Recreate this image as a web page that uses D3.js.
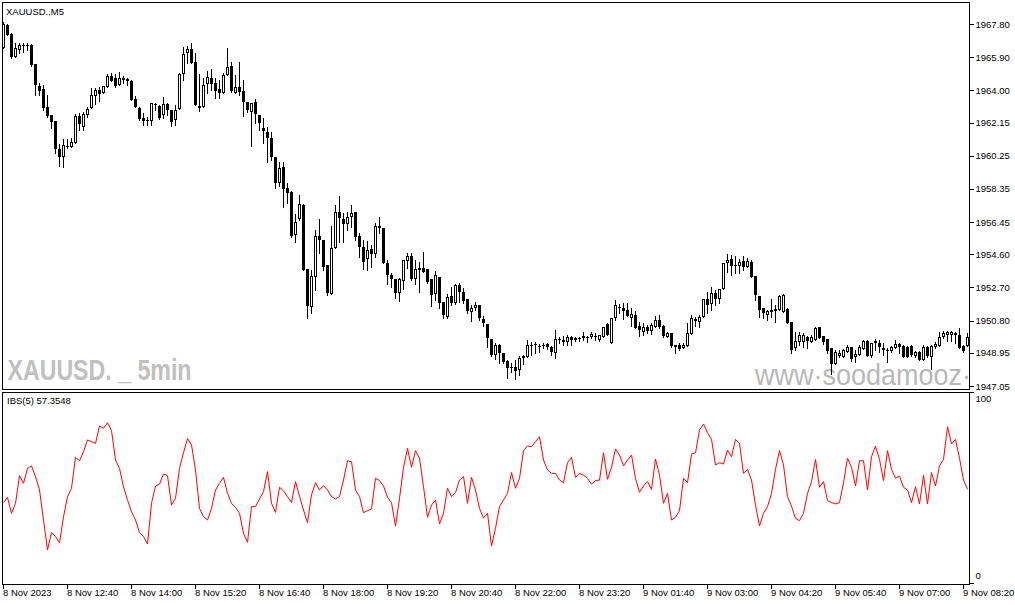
<!DOCTYPE html>
<html>
<head>
<meta charset="utf-8">
<script src="https://cdn.jsdelivr.net/npm/d3@7"></script>
<style>
  html, body { margin: 0; padding: 0; background: #fff; }
  svg { display: block; }
</style>
</head>
<body>
<svg id="chart"></svg>
<script>
const width = 1015;
const height = 605;
const mainBox = { left: 2.5, right: 969.5, top: 2.5, bottom: 389.5 };
const subBox = { left: 2.5, right: 969.5, top: 392.5, bottom: 584.5 };
const font = '"Liberation Sans", Arial, sans-serif';

const symbolTitle = 'XAUUSD.,M5';
const indicatorTitle = 'IBS(5) 57.3548';
const leftMark = 'XAUUSD. _ 5min';
const rightMark = 'www·soodamooz·com';

const priceTicks = [1967.80, 1965.90, 1964.00, 1962.15, 1960.25, 1958.35, 1956.45, 1954.60, 1952.70, 1950.80, 1948.95, 1947.05];
const ibsTicks = [100, 0];
const timeTicks = [
    [0, '8 Nov 2023'], [16, '8 Nov 12:40'], [32, '8 Nov 14:00'], [48, '8 Nov 15:20'],
    [64, '8 Nov 16:40'], [80, '8 Nov 18:00'], [96, '8 Nov 19:20'], [112, '8 Nov 20:40'],
    [128, '8 Nov 22:00'], [144, '8 Nov 23:20'], [160, '9 Nov 01:40'], [176, '9 Nov 03:00'],
    [192, '9 Nov 04:20'], [208, '9 Nov 05:40'], [224, '9 Nov 07:00'], [240, '9 Nov 08:20']
];

// M5 bars, [open, high, low, close]
const candles = [
    [1966.42,1967.91,1966.42,1967.80],[1967.74,1967.80,1967.17,1967.17],[1967.23,1967.28,1965.85,1965.91],[1965.91,1966.71,1965.91,1966.42],
    [1966.31,1966.71,1966.14,1966.60],[1966.54,1966.71,1966.19,1966.60],[1966.60,1966.71,1966.31,1966.54],[1966.60,1966.65,1965.39,1965.45],
    [1965.51,1965.51,1963.73,1964.30],[1964.24,1964.42,1963.73,1963.96],[1964.07,1964.30,1962.87,1962.98],[1963.04,1963.73,1962.47,1962.52],
    [1962.58,1962.58,1961.84,1962.18],[1962.24,1962.24,1960.40,1960.63],[1960.63,1960.92,1959.66,1960.18],[1960.18,1961.21,1959.60,1960.86],
    [1960.81,1961.21,1960.69,1960.79],[1960.75,1961.27,1960.75,1961.04],[1960.98,1962.64,1960.98,1962.52],[1962.52,1962.70,1961.72,1962.07],
    [1961.90,1962.75,1961.72,1962.64],[1962.58,1963.04,1962.47,1962.93],[1962.98,1964.13,1962.98,1963.73],[1963.67,1964.13,1963.21,1964.02],
    [1964.02,1964.19,1963.39,1963.79],[1963.84,1964.24,1963.84,1964.24],[1964.19,1964.93,1964.19,1964.81],[1964.81,1964.99,1964.53,1964.53],
    [1964.70,1964.93,1964.19,1964.24],[1964.30,1965.05,1964.30,1964.70],[1964.70,1964.81,1964.42,1964.59],[1964.53,1964.70,1964.30,1964.65],
    [1964.53,1964.59,1963.44,1963.44],[1963.50,1963.67,1963.04,1963.04],[1962.98,1963.04,1962.30,1962.35],[1962.41,1962.70,1962.01,1962.24],
    [1962.30,1962.47,1962.01,1962.28],[1962.24,1963.27,1962.01,1963.27],[1963.21,1963.27,1962.87,1963.19],[1963.10,1963.16,1962.35,1962.41],
    [1962.58,1963.62,1962.41,1963.21],[1963.21,1963.27,1962.58,1962.87],[1962.87,1962.87,1961.95,1962.18],[1962.30,1963.16,1962.01,1962.87],
    [1962.93,1964.99,1962.93,1964.93],[1964.93,1966.48,1964.59,1966.08],[1966.14,1966.54,1965.56,1966.37],[1966.37,1966.71,1965.56,1965.56],
    [1965.62,1966.14,1963.16,1963.16],[1963.10,1964.93,1962.81,1962.98],[1963.04,1964.70,1963.04,1964.30],[1964.36,1965.10,1963.84,1964.76],
    [1964.70,1965.22,1964.02,1964.36],[1964.42,1964.70,1963.56,1963.96],[1964.07,1964.59,1963.56,1963.84],[1963.84,1964.99,1963.84,1964.87],
    [1964.87,1966.42,1964.87,1965.33],[1965.39,1965.62,1963.90,1963.96],[1963.84,1964.87,1963.84,1964.19],[1964.19,1965.62,1963.73,1963.90],
    [1963.96,1964.59,1962.52,1963.33],[1963.33,1963.33,1962.75,1962.87],[1962.75,1963.27,1960.81,1963.27],[1963.33,1963.50,1962.13,1962.64],
    [1962.58,1962.58,1961.72,1962.13],[1961.84,1962.41,1960.98,1961.67],[1961.61,1961.90,1959.89,1961.27],[1961.27,1961.61,1960.00,1960.18],
    [1960.18,1960.18,1958.40,1958.69],[1958.69,1959.89,1958.51,1959.55],[1959.60,1959.89,1957.31,1958.34],[1958.40,1958.69,1957.54,1958.11],
    [1958.17,1958.23,1955.59,1955.65],[1955.70,1956.91,1955.30,1956.45],[1956.62,1957.99,1956.57,1957.48],[1957.42,1957.48,1953.70,1953.70],
    [1953.76,1953.76,1950.95,1951.63],[1951.58,1953.70,1951.23,1953.35],[1953.30,1955.99,1952.55,1955.65],[1955.65,1956.62,1954.67,1955.42],
    [1955.42,1955.42,1953.70,1953.87],[1953.99,1953.99,1952.27,1952.38],[1952.32,1956.22,1952.32,1954.96],[1954.96,1957.42,1954.96,1957.02],
    [1957.02,1957.94,1955.30,1956.68],[1956.62,1956.97,1955.30,1956.34],[1956.34,1957.02,1955.99,1956.74],[1956.74,1957.42,1956.16,1956.97],
    [1957.02,1957.02,1955.42,1955.59],[1955.65,1955.82,1954.44,1955.01],[1955.01,1955.42,1953.76,1954.16],[1954.33,1955.36,1953.70,1954.85],
    [1954.90,1955.13,1953.87,1954.62],[1954.62,1956.39,1954.44,1956.22],[1956.22,1956.74,1955.82,1956.11],[1956.11,1956.11,1954.10,1954.10],
    [1954.10,1954.27,1952.90,1953.41],[1953.41,1953.53,1952.72,1953.18],[1953.18,1953.18,1952.09,1952.38],[1952.38,1953.24,1951.92,1953.18],
    [1953.07,1954.27,1952.61,1954.27],[1954.21,1954.67,1953.81,1954.50],[1954.50,1954.67,1953.13,1953.18],[1953.18,1954.27,1952.90,1953.76],
    [1953.81,1954.16,1952.44,1953.70],[1953.81,1954.73,1953.58,1953.58],[1953.76,1953.76,1952.95,1953.01],[1953.18,1953.18,1951.63,1952.27],
    [1952.32,1953.64,1951.98,1953.41],[1953.30,1953.30,1951.52,1951.81],[1951.86,1951.86,1950.95,1951.12],[1951.00,1952.32,1950.95,1952.15],
    [1952.21,1952.72,1951.69,1951.81],[1951.81,1952.90,1951.75,1952.84],[1952.84,1952.95,1951.86,1952.44],[1952.44,1952.67,1951.81,1951.92],
    [1952.04,1952.04,1951.23,1951.35],[1951.29,1951.69,1950.78,1951.52],[1951.52,1951.86,1951.40,1951.69],[1951.69,1951.69,1950.83,1950.95],
    [1950.89,1951.06,1950.49,1950.66],[1950.60,1950.60,1949.29,1949.80],[1949.74,1949.74,1948.77,1948.83],[1948.83,1949.51,1948.60,1949.40],
    [1949.40,1949.46,1948.37,1948.94],[1948.94,1948.94,1948.37,1948.43],[1948.48,1948.54,1947.51,1948.08],[1948.14,1948.37,1947.85,1948.12],
    [1948.14,1948.54,1947.45,1947.91],[1947.97,1948.77,1947.68,1948.66],[1948.66,1948.83,1948.31,1948.77],[1948.71,1949.69,1948.71,1949.40],
    [1949.40,1949.57,1948.83,1949.38],[1949.46,1949.57,1948.94,1949.44],[1949.34,1949.46,1949.00,1949.36],[1949.40,1949.51,1949.23,1949.42],
    [1949.46,1949.51,1949.17,1949.29],[1949.29,1949.34,1948.83,1949.00],[1948.94,1950.26,1948.66,1949.74],[1949.74,1949.86,1949.51,1949.76],
    [1949.69,1949.92,1949.40,1949.57],[1949.57,1949.97,1949.40,1949.86],[1949.86,1949.92,1949.40,1949.69],[1949.80,1949.86,1949.63,1949.69],
    [1949.74,1949.86,1949.63,1949.80],[1949.92,1950.14,1949.69,1949.80],[1949.86,1949.92,1949.57,1949.84],[1949.86,1950.14,1949.80,1950.03],
    [1949.92,1950.09,1949.69,1949.86],[1949.69,1949.97,1949.63,1949.97],[1949.86,1950.43,1949.86,1950.43],[1950.60,1950.66,1949.97,1949.97],
    [1949.51,1950.95,1949.51,1950.95],[1950.95,1951.98,1950.83,1951.69],[1951.58,1951.75,1951.23,1951.56],[1951.52,1951.81,1950.89,1951.35],
    [1951.40,1951.81,1951.06,1951.06],[1950.95,1951.52,1950.49,1951.18],[1951.12,1951.35,1950.37,1950.37],[1950.49,1950.72,1949.92,1950.26],
    [1950.14,1950.66,1949.97,1950.43],[1950.43,1950.55,1950.09,1950.20],[1950.20,1950.66,1950.03,1950.55],[1950.43,1951.06,1950.43,1950.83],
    [1950.83,1951.12,1950.37,1950.43],[1950.49,1950.55,1949.86,1949.92],[1949.86,1950.14,1949.86,1950.09],[1950.09,1950.09,1949.29,1949.34],
    [1949.40,1949.40,1948.94,1949.29],[1949.40,1949.51,1949.11,1949.17],[1949.23,1949.51,1949.23,1949.40],[1949.34,1950.66,1949.34,1950.09],
    [1950.03,1951.12,1950.03,1950.95],[1950.89,1951.00,1950.49,1950.78],[1950.72,1951.12,1950.43,1951.00],[1951.00,1952.04,1951.00,1952.04],
    [1952.04,1952.44,1951.23,1951.69],[1951.75,1952.72,1951.40,1952.38],[1952.38,1952.55,1951.69,1952.04],[1952.04,1952.61,1951.81,1952.61],
    [1952.61,1954.10,1952.61,1954.10],[1954.10,1954.62,1953.58,1954.27],[1954.33,1954.56,1953.41,1953.93],[1953.99,1954.50,1953.53,1953.97],
    [1953.93,1954.33,1953.53,1954.16],[1954.21,1954.50,1953.70,1953.87],[1953.87,1954.39,1953.87,1954.21],[1954.16,1954.27,1953.30,1953.30],
    [1953.35,1953.35,1951.98,1952.27],[1952.21,1952.21,1951.00,1951.40],[1951.52,1951.52,1950.95,1951.23],[1951.12,1951.40,1950.83,1951.35],
    [1951.29,1952.04,1951.00,1951.40],[1951.46,1951.69,1950.72,1951.35],[1951.40,1952.27,1951.40,1952.21],[1951.29,1952.32,1951.29,1952.27],
    [1951.46,1951.52,1950.66,1950.66],[1950.72,1950.72,1948.94,1949.11],[1949.23,1950.14,1949.11,1949.63],[1949.57,1950.14,1949.40,1949.97],
    [1949.57,1950.09,1949.29,1949.97],[1949.86,1949.92,1949.23,1949.63],[1949.57,1949.97,1949.57,1949.86],[1949.69,1950.43,1949.69,1950.37],
    [1950.43,1950.43,1949.80,1949.80],[1949.92,1949.92,1949.46,1949.57],[1949.74,1949.74,1948.94,1949.06],[1949.23,1949.23,1947.74,1948.31],
    [1948.31,1949.11,1948.31,1949.00],[1948.77,1949.11,1948.71,1948.94],[1948.71,1949.17,1948.71,1949.11],[1949.00,1949.40,1949.00,1949.29],
    [1949.29,1949.29,1948.48,1948.60],[1948.71,1949.11,1948.43,1948.88],[1948.83,1949.40,1948.83,1949.29],[1949.17,1949.69,1949.17,1949.63],
    [1949.63,1949.69,1948.77,1948.77],[1948.77,1949.51,1948.71,1949.51],[1949.51,1949.74,1949.11,1949.63],[1949.51,1949.69,1949.00,1949.29],
    [1949.23,1949.51,1948.83,1949.11],[1949.11,1949.23,1948.43,1949.13],[1949.06,1949.34,1949.00,1949.29],[1949.23,1949.69,1949.23,1949.46],
    [1949.46,1949.51,1948.94,1949.29],[1949.34,1949.40,1948.71,1948.71],[1949.29,1949.34,1948.71,1948.71],[1949.34,1949.40,1948.77,1948.83],
    [1948.77,1949.06,1948.71,1949.00],[1949.00,1949.06,1948.54,1948.54],[1948.54,1949.40,1948.54,1949.29],[1949.29,1949.34,1948.71,1948.77],
    [1948.71,1949.40,1948.02,1949.34],[1949.29,1949.57,1949.23,1949.46],[1949.34,1950.14,1949.34,1949.86],[1949.86,1950.20,1949.80,1950.09],
    [1949.97,1950.20,1949.63,1950.14],[1950.00,1950.20,1949.63,1950.12],[1950.09,1950.14,1949.51,1949.97],[1949.97,1950.37,1949.23,1949.23],
    [1949.34,1949.40,1949.00,1949.06],[1949.34,1950.09,1949.34,1949.86]
];

// IBS(5) value per bar
const ibs = [
    42.1, 44.8, 36.5, 41.7, 56.2, 52.2, 60.0, 61.3, 55.7, 48.7,
    33.0, 17.3, 26.4, 24.3, 21.1, 34.7, 45.2, 49.6, 65.8, 64.0,
    68.8, 74.9, 74.0, 73.1, 82.2, 81.0, 83.9, 79.8, 64.4, 60.0,
    50.4, 43.5, 37.3, 33.0, 26.4, 24.3, 20.4, 41.7, 50.8, 51.8,
    57.1, 56.2, 40.8, 44.3, 60.0, 68.2, 75.6, 72.3, 59.2, 39.1,
    34.7, 33.0, 39.1, 48.7, 52.2, 55.3, 46.9, 41.7, 39.6, 36.5,
    26.0, 21.3, 40.0, 40.0, 44.0, 47.8, 58.3, 41.7, 37.0, 50.1,
    48.3, 45.2, 42.1, 53.1, 45.5, 38.2, 31.6, 46.1, 52.5, 48.7,
    51.0, 48.7, 45.2, 44.0, 45.2, 53.9, 64.0, 63.5, 48.7, 45.2,
    36.8, 37.9, 38.7, 54.8, 53.6, 50.8, 44.8, 42.1, 29.8, 44.3,
    60.6, 70.5, 60.6, 69.3, 65.3, 50.4, 34.4, 40.8, 43.5, 30.9,
    36.5, 49.6, 45.2, 47.3, 53.9, 55.7, 41.7, 55.3, 48.7, 39.1,
    33.9, 36.5, 19.4, 28.6, 40.0, 43.5, 46.9, 57.8, 49.6, 54.8,
    69.3, 71.7, 71.4, 74.0, 76.6, 64.4, 59.2, 57.4, 57.4, 53.9,
    52.5, 63.0, 65.8, 55.3, 57.4, 56.5, 54.8, 51.8, 53.6, 53.9,
    68.2, 54.3, 60.6, 70.2, 67.0, 61.3, 64.4, 67.0, 54.8, 47.5,
    50.8, 53.1, 49.0, 64.9, 56.5, 41.7, 46.9, 33.0, 34.4, 37.9,
    54.8, 52.5, 67.5, 68.2, 80.1, 83.2, 78.7, 75.2, 61.8, 63.0,
    62.3, 69.6, 66.1, 75.2, 73.1, 57.4, 59.5, 53.9, 40.8, 29.8,
    36.5, 40.0, 46.9, 59.5, 69.3, 61.8, 45.2, 40.3, 33.9, 32.6,
    36.5, 46.9, 53.1, 64.7, 50.1, 53.1, 43.1, 42.1, 41.4, 42.1,
    52.5, 65.3, 60.6, 50.8, 64.0, 64.0, 48.7, 66.1, 71.7, 64.7,
    53.6, 69.3, 59.5, 54.8, 56.0, 50.1, 48.7, 42.1, 50.4, 41.4,
    56.5, 41.4, 57.8, 50.8, 61.3, 64.7, 81.8, 72.8, 75.2, 65.3,
    53.9, 49.0
];

const svg = d3.select('#chart')
    .attr('width', width)
    .attr('height', height);

svg.append('rect')
    .attr('width', width)
    .attr('height', height)
    .attr('fill', '#fff');

const x = d3.scaleLinear().domain([0, candles.length - 1]).range([3.5, 967.5]);
const y = d3.scaleLinear().domain([1947.05, 1967.80]).range([386, 24]);
const yIbs = d3.scaleLinear().domain([0, 100]).range([583, 392]);

// clip areas for the two panes
const defs = svg.append('defs');
defs.append('clipPath').attr('id', 'clipMain').append('rect')
    .attr('x', mainBox.left + 0.5).attr('y', mainBox.top + 0.5)
    .attr('width', mainBox.right - mainBox.left - 1)
    .attr('height', mainBox.bottom - mainBox.top - 1);
defs.append('clipPath').attr('id', 'clipSub').append('rect')
    .attr('x', subBox.left + 0.5).attr('y', subBox.top + 0.5)
    .attr('width', subBox.right - subBox.left - 1)
    .attr('height', subBox.bottom - subBox.top - 1);

// watermarks sit under the bars
const marks = svg.append('g').attr('clip-path', 'url(#clipMain)');
marks.append('text')
    .attr('x', 7.5).attr('y', 380)
    .attr('font-family', '"Liberation Sans Narrow", "Liberation Sans", Arial, sans-serif')
    .attr('font-weight', 'bold')
    .attr('font-size', 30)
    .attr('textLength', 184)
    .attr('lengthAdjust', 'spacingAndGlyphs')
    .attr('fill', '#c0c0c0')
    .text(leftMark);
marks.append('text')
    .attr('x', 755).attr('y', 385)
    .attr('font-family', font)
    .attr('font-size', 30)
    .attr('textLength', 267)
    .attr('lengthAdjust', 'spacingAndGlyphs')
    .attr('fill', '#b8b8b8')
    .text(rightMark);

// candles
const bars = svg.append('g')
    .attr('clip-path', 'url(#clipMain)')
    .attr('shape-rendering', 'crispEdges');

bars.selectAll('line.wick')
    .data(candles)
    .join('line')
    .attr('class', 'wick')
    .attr('x1', (d, i) => x(i))
    .attr('x2', (d, i) => x(i))
    .attr('y1', d => Math.round(y(d[1])))
    .attr('y2', d => Math.round(y(d[2])) + 1)
    .attr('stroke', '#000')
    .attr('stroke-width', 1);

bars.selectAll('rect.body')
    .data(candles)
    .join('rect')
    .attr('class', 'body')
    .each(function (d, i) {
        const [o, , , c] = d;
        const yo = Math.round(y(o));
        const yc = Math.round(y(c));
        const cx = x(i);
        const r = d3.select(this);
        if (c > o && yo - yc >= 3) {
            // bull bar: hollow body
            r.attr('x', cx - 1).attr('y', yc + 0.5)
                .attr('width', 2).attr('height', yo - yc - 1)
                .attr('fill', '#fff').attr('stroke', '#000').attr('stroke-width', 1);
        } else {
            const top = Math.min(yo, yc);
            r.attr('x', cx - 1.5).attr('y', top)
                .attr('width', 3).attr('height', Math.max(Math.abs(yc - yo), 1))
                .attr('fill', '#000');
        }
    });

// IBS line
svg.append('path')
    .datum(ibs)
    .attr('clip-path', 'url(#clipSub)')
    .attr('d', d3.line().x((d, i) => x(i)).y(d => yIbs(d)))
    .attr('fill', 'none')
    .attr('stroke', '#ff0000')
    .attr('stroke-width', 1);

// pane frames
svg.append('rect')
    .attr('x', mainBox.left).attr('y', mainBox.top)
    .attr('width', mainBox.right - mainBox.left)
    .attr('height', mainBox.bottom - mainBox.top)
    .attr('fill', 'none').attr('stroke', '#000').attr('shape-rendering', 'crispEdges');
svg.append('rect')
    .attr('x', subBox.left).attr('y', subBox.top)
    .attr('width', subBox.right - subBox.left)
    .attr('height', subBox.bottom - subBox.top)
    .attr('fill', 'none').attr('stroke', '#000').attr('shape-rendering', 'crispEdges');

// axes
const priceAxis = d3.axisRight(y)
    .tickValues(priceTicks)
    .tickFormat(d3.format('.2f'))
    .tickSize(4)
    .tickSizeOuter(0)
    .tickPadding(2);

svg.append('g')
    .attr('transform', `translate(${mainBox.right},0)`)
    .call(priceAxis)
    .call(g => g.select('.domain').remove())
    .attr('font-family', font)
    .attr('font-size', 9.5)
    .call(g => g.selectAll('text').attr('fill', '#000'))
    .call(g => g.selectAll('line').attr('stroke', '#000').attr('shape-rendering', 'crispEdges'));

const ibsAxis = d3.axisRight(yIbs)
    .tickValues(ibsTicks)
    .tickFormat(d3.format('d'))
    .tickSize(4)
    .tickSizeOuter(0)
    .tickPadding(2);

svg.append('g')
    .attr('transform', `translate(${subBox.right},0)`)
    .call(ibsAxis)
    .call(g => g.select('.domain').remove())
    .attr('font-family', font)
    .attr('font-size', 9.5)
    .call(g => g.selectAll('text').attr('fill', '#000').attr('dy', d => d === 100 ? '0.95em' : '-0.45em'))
    .call(g => g.selectAll('line').attr('stroke', '#000').attr('shape-rendering', 'crispEdges'));

const timeAxis = d3.axisBottom(x)
    .tickValues(timeTicks.map(t => t[0]))
    .tickFormat((d, k) => timeTicks[k][1])
    .tickSize(4)
    .tickSizeOuter(0)
    .tickPadding(1)
    .offset(0);

svg.append('g')
    .attr('transform', `translate(0,${subBox.bottom})`)
    .call(timeAxis)
    .call(g => g.select('.domain').remove())
    .attr('font-family', font)
    .attr('font-size', 9.5)
    .call(g => g.selectAll('text').attr('fill', '#000').attr('text-anchor', 'start').attr('x', -0.5))
    .call(g => g.selectAll('line').attr('stroke', '#000').attr('shape-rendering', 'crispEdges'));

// titles
svg.append('text')
    .attr('x', 6).attr('y', 14.5)
    .attr('font-family', font)
    .attr('font-size', 9.5)
    .attr('fill', '#000')
    .text(symbolTitle);

svg.append('text')
    .attr('x', 7).attr('y', 404)
    .attr('font-family', font)
    .attr('font-size', 9.5)
    .attr('fill', '#000')
    .text(indicatorTitle);
</script>
</body>
</html>
